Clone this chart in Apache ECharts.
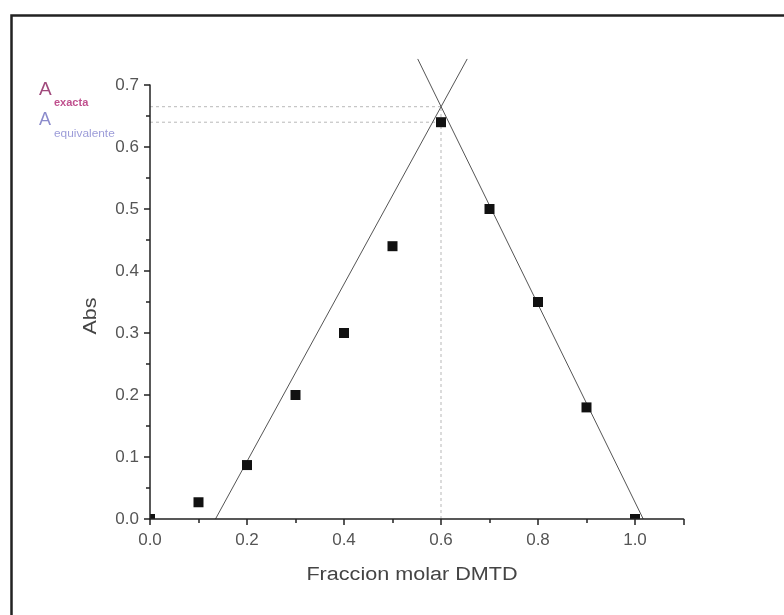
<!DOCTYPE html>
<html>
<head>
<meta charset="utf-8">
<title>Abs vs Fraccion molar DMTD</title>
<script src="https://cdn.jsdelivr.net/npm/echarts@6/dist/echarts.min.js"></script>
<style>
  html, body { margin: 0; padding: 0; background: #fff; }
  #chart { width: 784px; height: 615px; }
</style>
</head>
<body>
<div id="chart"></div>
<script>
// Job's method (continuous variation): measured absorbance vs mole fraction
const fraccion = [0.0, 0.1, 0.2, 0.3, 0.4, 0.5, 0.6, 0.7, 0.8, 0.9, 1.0];
const absorbancia = [0.0, 0.027, 0.087, 0.2, 0.3, 0.44, 0.64, 0.5, 0.35, 0.18, 0.0];

// Straight-line fits of the rising and falling branches (end points)
const rectaAscendente = [[0.135, 0.0], [0.654, 0.742]];
const rectaDescendente = [[0.552, 0.742], [1.017, 0.0]];

// Guide lines: exact absorbance at the intersection and equivalent absorbance
const aExacta = 0.665;
const aEquivalente = 0.64;
const xEstequiometrica = 0.6;
const guiaExacta = [[0.0, aExacta], [xEstequiometrica, aExacta]];
const guiaEquivalente = [[0.0, aEquivalente], [xEstequiometrica, aEquivalente]];
const guiaVertical = [[xEstequiometrica, 0.0], [xEstequiometrica, aExacta]];

const xTicks = { min: 0, max: 1.1, interval: 0.2 };
const yTicks = { min: 0, max: 0.7, interval: 0.1 };

const chart = echarts.init(document.getElementById('chart'), null, { renderer: 'canvas' });

const axisColor = '#222';
const labelColor = '#555';
const fontFamily = 'Liberation Sans, Arial, sans-serif';

const guideStyle = { color: '#b8b8b8', width: 1, type: [3, 3] };
const fitStyle = { color: '#555', width: 1 };

function lineSeries(data, style, clip) {
  return {
    type: 'line',
    data: data,
    symbol: 'none',
    silent: true,
    clip: clip,
    lineStyle: style,
    z: 2
  };
}

// Square markers, cut at the plot area edges
function renderSquare(params, api) {
  const p = api.coord([api.value(0), api.value(1)]);
  const s = 10;
  const cs = params.coordSys;
  const shape = echarts.graphic.clipRectByRect(
    { x: p[0] - s / 2, y: p[1] - s / 2, width: s, height: s },
    { x: cs.x, y: cs.y, width: cs.width, height: cs.height }
  );
  return shape && { type: 'rect', shape: shape, style: { fill: '#111' } };
}

const axisCommon = {
  type: 'value',
  splitLine: { show: false },
  axisLine: { show: true, onZero: false, lineStyle: { color: axisColor, width: 1.5 } },
  axisTick: { show: true, inside: false, length: 6, lineStyle: { color: axisColor, width: 1.5 } },
  minorTick: { show: true, splitNumber: 2, length: 4, lineStyle: { color: axisColor, width: 1.5 } }
};

function label(text, x, y, size, color, extra) {
  return Object.assign({
    type: 'text',
    x: x, y: y,
    silent: true,
    style: Object.assign({
      text: text, fill: color, fontSize: size, fontFamily: fontFamily,
      align: 'left', verticalAlign: 'middle'
    }, (extra && extra.style) || {})
  }, (extra && extra.el) || {});
}

chart.setOption({
  animation: false,
  backgroundColor: '#fff',
  grid: { left: 150, right: 100.5, top: 85, bottom: 96, containLabel: false },
  xAxis: Object.assign({}, axisCommon, {
    min: xTicks.min,
    max: xTicks.max,
    interval: xTicks.interval,
    z: 10,
    axisLabel: {
      color: labelColor, fontSize: 17, fontFamily: fontFamily, margin: 13,
      showMaxLabel: false,
      formatter: v => (Math.abs(v - 1.1) < 1e-6 ? '' : v.toFixed(1))
    }
  }),
  yAxis: Object.assign({}, axisCommon, {
    min: yTicks.min,
    max: yTicks.max,
    interval: yTicks.interval,
    z: 10,
    axisLabel: {
      color: labelColor, fontSize: 17, fontFamily: fontFamily, margin: 11,
      formatter: v => v.toFixed(1)
    }
  }),
  graphic: [
    {
      // outer frame (open on the right and bottom)
      type: 'rect',
      left: 9, top: 13,
      shape: { width: 800, height: 620 },
      style: { fill: 'none', stroke: '#222', lineWidth: 2.5 },
      silent: true, z: 10
    },
    {
      type: 'text',
      x: 91, y: 316,
      rotation: Math.PI / 2,
      scaleX: 1.2,
      style: {
        text: 'Abs', fill: '#444', fontSize: 18, fontFamily: fontFamily,
        align: 'center', verticalAlign: 'middle'
      }
    },
    {
      type: 'text',
      x: 412, y: 575,
      scaleX: 1.2,
      style: {
        text: 'Fraccion molar DMTD', fill: '#444', fontSize: 18, fontFamily: fontFamily,
        align: 'center', verticalAlign: 'middle'
      }
    },
    // A with subscripts: exact and equivalent absorbance
    label('A', 39, 90, 19, '#a04a7c'),
    label('exacta', 54, 103, 11, '#c0508e', { style: { fontWeight: 'bold' } }),
    label('A', 39, 120, 18, '#8c8ccc'),
    label('equivalente', 54, 134, 11, '#9c9cd8', { el: { scaleX: 1.08 } })
  ],
  series: [
    lineSeries(guiaExacta, guideStyle, true),
    lineSeries(guiaEquivalente, guideStyle, true),
    lineSeries(guiaVertical, guideStyle, true),
    lineSeries(rectaAscendente, fitStyle, false),
    lineSeries(rectaDescendente, fitStyle, false),
    {
      type: 'custom',
      data: fraccion.map((x, i) => [x, absorbancia[i]]),
      renderItem: renderSquare,
      clip: false,
      silent: true,
      z: 5
    }
  ]
});
</script>
</body>
</html>
